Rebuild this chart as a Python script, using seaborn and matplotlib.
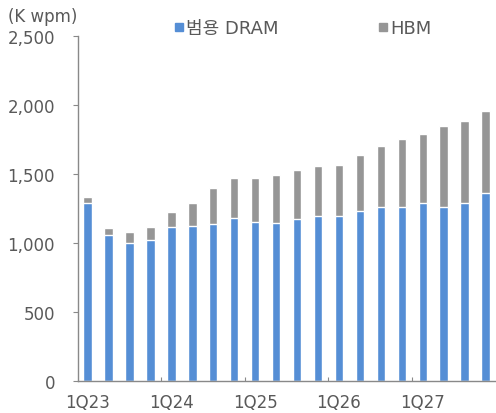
import matplotlib
matplotlib.use("Agg")
import matplotlib.pyplot as plt
from matplotlib.lines import Line2D
from matplotlib.ticker import FuncFormatter, FixedLocator
import seaborn as sns
import pandas as pd

# Quarterly wafer capacity (K wpm)
quarters = [f"{q}Q{y}" for y in range(23, 28) for q in range(1, 5)]
dram = [1292, 1060, 1002, 1019, 1113, 1121, 1140, 1184, 1155, 1147,
        1176, 1196, 1196, 1234, 1258, 1263, 1292, 1263, 1292, 1364]
hbm = [41, 46, 75, 97, 112, 169, 256, 285, 314, 343,
       350, 360, 369, 401, 447, 488, 495, 582, 592, 593]
series_names = ["범용 DRAM", "HBM"]
y_ticks = [0, 500, 1000, 1500, 2000, 2500]

BLUE = "#558ED5"
GREY = "#969696"
TEXT = "#595959"
AXIS = "#898989"
PX = 72 / 100  # points per pixel at 100 dpi

sns.set_theme(style="white")
plt.rcParams["font.family"] = ["DejaVu Sans", "Noto Sans CJK KR"]

df = pd.DataFrame({"quarter": quarters, "dram": dram, "hbm": hbm})
df["total"] = df["dram"] + df["hbm"]

fig = plt.figure(figsize=(4.96, 4.14), dpi=100)
ax = fig.add_axes([78 / 496, 1 - 382 / 414, 1 - 78 / 496, (382 - 37) / 414])

sns.barplot(data=df, x="quarter", y="total", color=GREY, width=0.4,
            saturation=1, ax=ax)
sns.barplot(data=df, x="quarter", y="dram", color=BLUE, width=0.4,
            saturation=1, ax=ax)

ax.set_xlim(-0.46, 19.5)
ax.set_ylim(0, 2500)
ax.set_xlabel("")
ax.set_ylabel("")

# y axis
ax.set_yticks(y_ticks)
ax.yaxis.set_major_formatter(FuncFormatter(lambda v, p: f"{int(v):,}"))
ax.tick_params(axis="y", which="major", direction="out", length=5 * PX,
               width=0.8, color=AXIS, labelsize=12, labelcolor=TEXT,
               pad=18 * PX, left=True)

# x axis: labels on first quarters, small inward ticks at year boundaries
first_q = [i for i, q in enumerate(quarters) if q.startswith("1Q")]
ax.set_xticks(first_q)
ax.set_xticklabels([quarters[i] for i in first_q])
ax.xaxis.set_minor_locator(FixedLocator([i - 0.5 for i in first_q[1:]]))
ax.tick_params(axis="x", which="major", length=0, labelsize=12,
               labelcolor=TEXT, pad=12 * PX)
ax.tick_params(axis="x", which="minor", direction="in", length=4 * PX,
               width=0.8, color=AXIS, bottom=True)

for side in ("top", "right"):
    ax.spines[side].set_visible(False)
for side in ("left", "bottom"):
    ax.spines[side].set_color(AXIS)
    ax.spines[side].set_linewidth(1.0)

# unit label
fig.text(8 / 496, 1 - 17 / 414, "(K wpm)", fontsize=12, color=TEXT,
         ha="left", va="center")

handles = [Line2D([], [], marker="s", linestyle="", markersize=8 * PX,
                  markerfacecolor=c, markeredgecolor=c)
           for c in (BLUE, GREY)]
fig.legend(handles, series_names, loc="center",
           bbox_to_anchor=(303 / 496, 1 - 29 / 414), ncol=2, frameon=False,
           fontsize=13, labelcolor=TEXT, handlelength=0.5,
           handletextpad=0.15, columnspacing=5.5, borderpad=0)

fig.savefig("out.png", dpi=100)
